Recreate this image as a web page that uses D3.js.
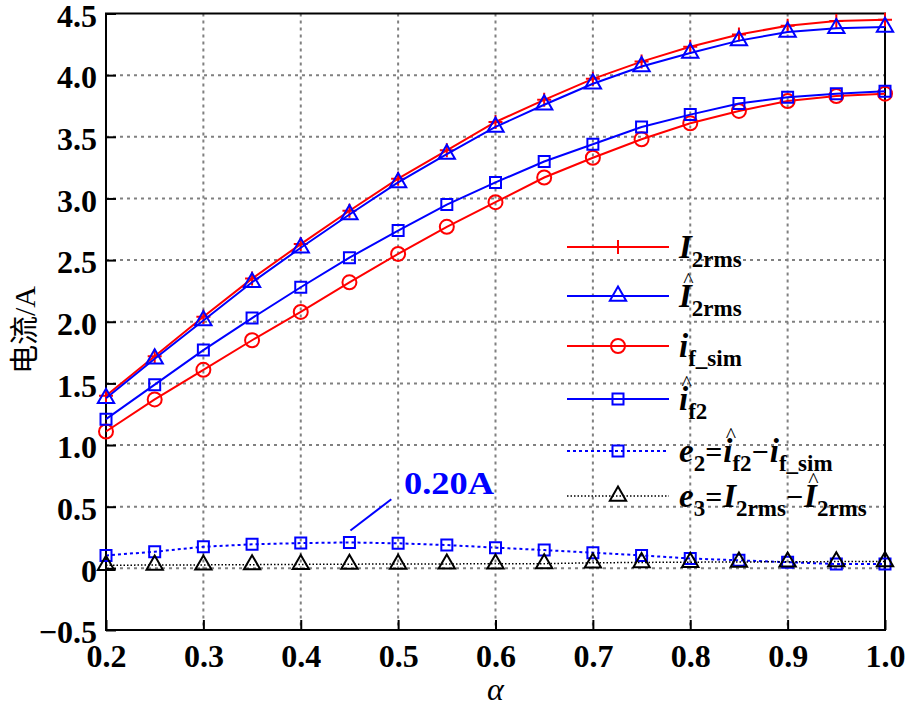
<!DOCTYPE html>
<html>
<head>
<meta charset="utf-8">
<script src="https://cdn.jsdelivr.net/npm/d3@7"></script>
<style>
  html, body { margin: 0; padding: 0; background: #fff; }
  svg { display: block; }
</style>
</head>
<body>
<svg id="chart" width="907" height="712"></svg>
<script>
// ---------------- data ----------------
const alpha    = [0.20, 0.25, 0.30, 0.35, 0.40, 0.45, 0.50, 0.55, 0.60, 0.65, 0.70, 0.75, 0.80, 0.85, 0.90, 0.95, 1.00];
const I2rms    = [1.40, 1.72, 2.04, 2.35, 2.63, 2.90, 3.16, 3.39, 3.62, 3.80, 3.97, 4.11, 4.23, 4.33, 4.40, 4.44, 4.45];
const I2rmsHat = [1.38, 1.70, 2.01, 2.32, 2.60, 2.87, 3.13, 3.36, 3.58, 3.76, 3.93, 4.07, 4.18, 4.28, 4.35, 4.38, 4.39];
const ifSim    = [1.11, 1.37, 1.61, 1.85, 2.08, 2.32, 2.55, 2.77, 2.97, 3.17, 3.33, 3.48, 3.61, 3.71, 3.79, 3.83, 3.85];
const if2Hat   = [1.21, 1.49, 1.77, 2.03, 2.28, 2.52, 2.74, 2.95, 3.13, 3.30, 3.44, 3.58, 3.68, 3.77, 3.82, 3.85, 3.87];
const e2       = [0.105, 0.135, 0.175, 0.195, 0.205, 0.21, 0.203, 0.189, 0.168, 0.148, 0.127, 0.105, 0.08, 0.065, 0.05, 0.035, 0.035];
const e3       = [0.025, 0.027, 0.028, 0.030, 0.032, 0.034, 0.035, 0.036, 0.037, 0.038, 0.045, 0.048, 0.050, 0.052, 0.053, 0.055, 0.056];

const xTicks      = [0.2, 0.3, 0.4, 0.5, 0.6, 0.7, 0.8, 0.9, 1.0];
const xTickLabels = ["0.2", "0.3", "0.4", "0.5", "0.6", "0.7", "0.8", "0.9", "1.0"];
const yTicks      = [-0.5, 0, 0.5, 1.0, 1.5, 2.0, 2.5, 3.0, 3.5, 4.0, 4.5];
const yTickLabels = ["\u22120.5", "0", "0.5", "1.0", "1.5", "2.0", "2.5", "3.0", "3.5", "4.0", "4.5"];

const peakLabel = "0.20A";
const peakAlpha = 0.45;
const yAxisTitle = ["电流", "/A"];
const xAxisTitle = "α";

// legend label pieces (it = italic letter, sub = subscript, op = operator)
const legendLabels = [
  [{t:"I",k:"it"},{t:"2rms",k:"sub"}],
  [{t:"I",k:"it",hat:true},{t:"2rms",k:"sub"}],
  [{t:"i",k:"it"},{t:"f_sim",k:"sub"}],
  [{t:"i",k:"it",hat:true},{t:"f2",k:"sub"}],
  [{t:"e",k:"it"},{t:"2",k:"sub"},{t:"=",k:"op"},{t:"i",k:"it",hat:true},{t:"f2",k:"sub"},{t:"\u2212",k:"op"},{t:"i",k:"it"},{t:"f_sim",k:"sub"}],
  [{t:"e",k:"it"},{t:"3",k:"sub"},{t:"=",k:"op"},{t:"I",k:"it"},{t:"2rms",k:"sub"},{t:"\u2212",k:"op"},{t:"I",k:"it",hat:true},{t:"2rms",k:"sub"}]
];

const series = [
  {values: I2rms,    color: "#ff0000", marker: "plus",     dash: null},
  {values: I2rmsHat, color: "#0000ff", marker: "triangle", dash: null},
  {values: ifSim,    color: "#ff0000", marker: "circle",   dash: null},
  {values: if2Hat,   color: "#0000ff", marker: "square",   dash: null},
  {values: e2,       color: "#0000ff", marker: "square",   dash: "3,3", width: 2},
  {values: e3,       color: "#000000", marker: "triangle", dash: "1.5,2", width: 1.5}
];

// ---------------- layout ----------------
const L = 106, R = 885, T = 13.5, B = 630;
const x = d3.scaleLinear().domain([0.2, 1.0]).range([L, R]);
const y = d3.scaleLinear().domain([-0.5, 4.5]).range([B, T]);

const svg = d3.select("#chart");
const FONT = "'Liberation Serif', 'Times New Roman', serif";

// grid
const grid = svg.append("g");
grid.selectAll("line.gx").data(xTicks.slice(1, -1)).join("line")
  .attr("x1", d => x(d)).attr("x2", d => x(d)).attr("y1", T).attr("y2", B)
  .attr("stroke", "#808080").attr("stroke-width", 2).attr("stroke-dasharray", "3,4");
grid.selectAll("line.gy").data(yTicks.slice(1, -1)).join("line")
  .attr("y1", d => y(d)).attr("y2", d => y(d)).attr("x1", L).attr("x2", R)
  .attr("stroke", "#808080").attr("stroke-width", 2).attr("stroke-dasharray", "3,4");

// axes
const xAxis = d3.axisBottom(x).tickValues(xTicks).tickFormat((d, i) => xTickLabels[i])
  .tickSizeInner(-10).tickSizeOuter(0).tickPadding(14);
const yAxis = d3.axisLeft(y).tickValues(yTicks).tickFormat((d, i) => yTickLabels[i])
  .tickSizeInner(-10).tickSizeOuter(0).tickPadding(9);

const gx = svg.append("g").attr("transform", `translate(0,${B})`).call(xAxis);
const gy = svg.append("g").attr("transform", `translate(${L},0)`).call(yAxis);
[gx, gy].forEach(g => {
  g.select(".domain").remove();
  g.selectAll(".tick line").attr("stroke", "#000").attr("stroke-width", 2);
  g.selectAll(".tick text").attr("fill", "#000").style("font-family", FONT)
    .style("font-size", "32px").style("font-weight", "bold");
});
gx.selectAll(".tick text").attr("dy", "0.71em");
gy.selectAll(".tick text").attr("dy", "0.40em");

// frame
svg.append("rect").attr("x", L).attr("y", T).attr("width", R - L).attr("height", B - T)
  .attr("fill", "none").attr("stroke", "#000").attr("stroke-width", 2);

// markers
function drawMarker(g, type, color, cx, cy) {
  if (type === "circle") {
    g.append("circle").attr("cx", cx).attr("cy", cy).attr("r", 7)
      .attr("fill", "none").attr("stroke", color).attr("stroke-width", 2);
  } else if (type === "plus") {
    g.append("path").attr("d", `M${cx - 7},${cy}H${cx + 7}M${cx},${cy - 7}V${cy + 7}`)
      .attr("fill", "none").attr("stroke", color).attr("stroke-width", 2);
  } else {
    const sym = type === "triangle" ? d3.symbolTriangle : d3.symbolSquare;
    const size = type === "triangle" ? 115 : 121;
    g.append("path").attr("d", d3.symbol().type(sym).size(size)())
      .attr("transform", `translate(${cx},${cy})`)
      .attr("fill", "none").attr("stroke", color).attr("stroke-width", 2);
  }
}

const line = d3.line().x(d => x(d[0])).y(d => y(d[1]));
const plot = svg.append("g");
series.forEach(s => {
  const pts = alpha.map((a, i) => [a, s.values[i]]);
  plot.append("path").attr("d", line(pts)).attr("fill", "none")
    .attr("stroke", s.color).attr("stroke-width", s.width || 2)
    .attr("stroke-dasharray", s.dash);
  const mg = plot.append("g");
  pts.forEach(p => drawMarker(mg, s.marker, s.color, x(p[0]), y(p[1])));
});

// annotation
const peakIdx = alpha.indexOf(peakAlpha);
svg.append("line")
  .attr("x1", x(peakAlpha) + 1).attr("y1", y(e2[peakIdx]) - 12)
  .attr("x2", x(0.493)).attr("y2", y(0.56))
  .attr("stroke", "#0000ff").attr("stroke-width", 2);
svg.append("text").attr("x", x(0.506)).attr("y", y(0.6))
  .attr("fill", "#0000ff").style("font-family", FONT).style("font-size", "32px")
  .style("font-weight", "bold")
  .attr("textLength", 90).attr("lengthAdjust", "spacingAndGlyphs")
  .text(peakLabel);

// axis titles
svg.append("text").attr("x", x(0.6)).attr("y", 700).attr("text-anchor", "middle")
  .style("font-family", FONT).style("font-size", "32px").style("font-style", "italic")
  .text(xAxisTitle);
const yt = svg.append("text").attr("transform", "translate(35,330) rotate(-90)")
  .attr("text-anchor", "middle").style("font-size", "29px");
yt.append("tspan").style("font-family", "'Noto Sans CJK SC', sans-serif").text(yAxisTitle[0]);
yt.append("tspan").style("font-family", FONT).style("font-size", "30px").text(yAxisTitle[1]);

// legend
const legRowsY = [247, 296, 346, 399, 451, 496];
const legX1 = 567, legX2 = 669, legMX = 618, legTX = 679;
const lg = svg.append("g");
series.forEach((s, i) => {
  const ly = legRowsY[i];
  lg.append("line").attr("x1", legX1).attr("x2", legX2).attr("y1", ly).attr("y2", ly)
    .attr("stroke", s.color).attr("stroke-width", s.width || 2).attr("stroke-dasharray", s.dash);
  drawMarker(lg, s.marker, s.color, legMX, ly);
  let cx = legTX;
  const base = ly + 11;
  legendLabels[i].forEach(seg => {
    const t = lg.append("text").attr("x", cx).style("font-family", FONT).style("font-weight", "bold");
    if (seg.k === "it") {
      t.attr("y", base).style("font-size", "33px").style("font-style", "italic").text(seg.t);
    } else if (seg.k === "sub") {
      t.attr("y", base + 9).style("font-size", "23px").text(seg.t);
    } else {
      t.attr("y", base).style("font-size", "30px").text(seg.t);
    }
    const w = t.node().getComputedTextLength();
    if (seg.hat) {
      lg.append("text").attr("x", cx + w / 2 + 3).attr("y", base - 20).attr("text-anchor", "middle")
        .style("font-family", FONT).style("font-size", "22px").text("^");
    }
    cx += w + (seg.k === "op" ? 1 : 0);
  });
});
</script>
</body>
</html>
